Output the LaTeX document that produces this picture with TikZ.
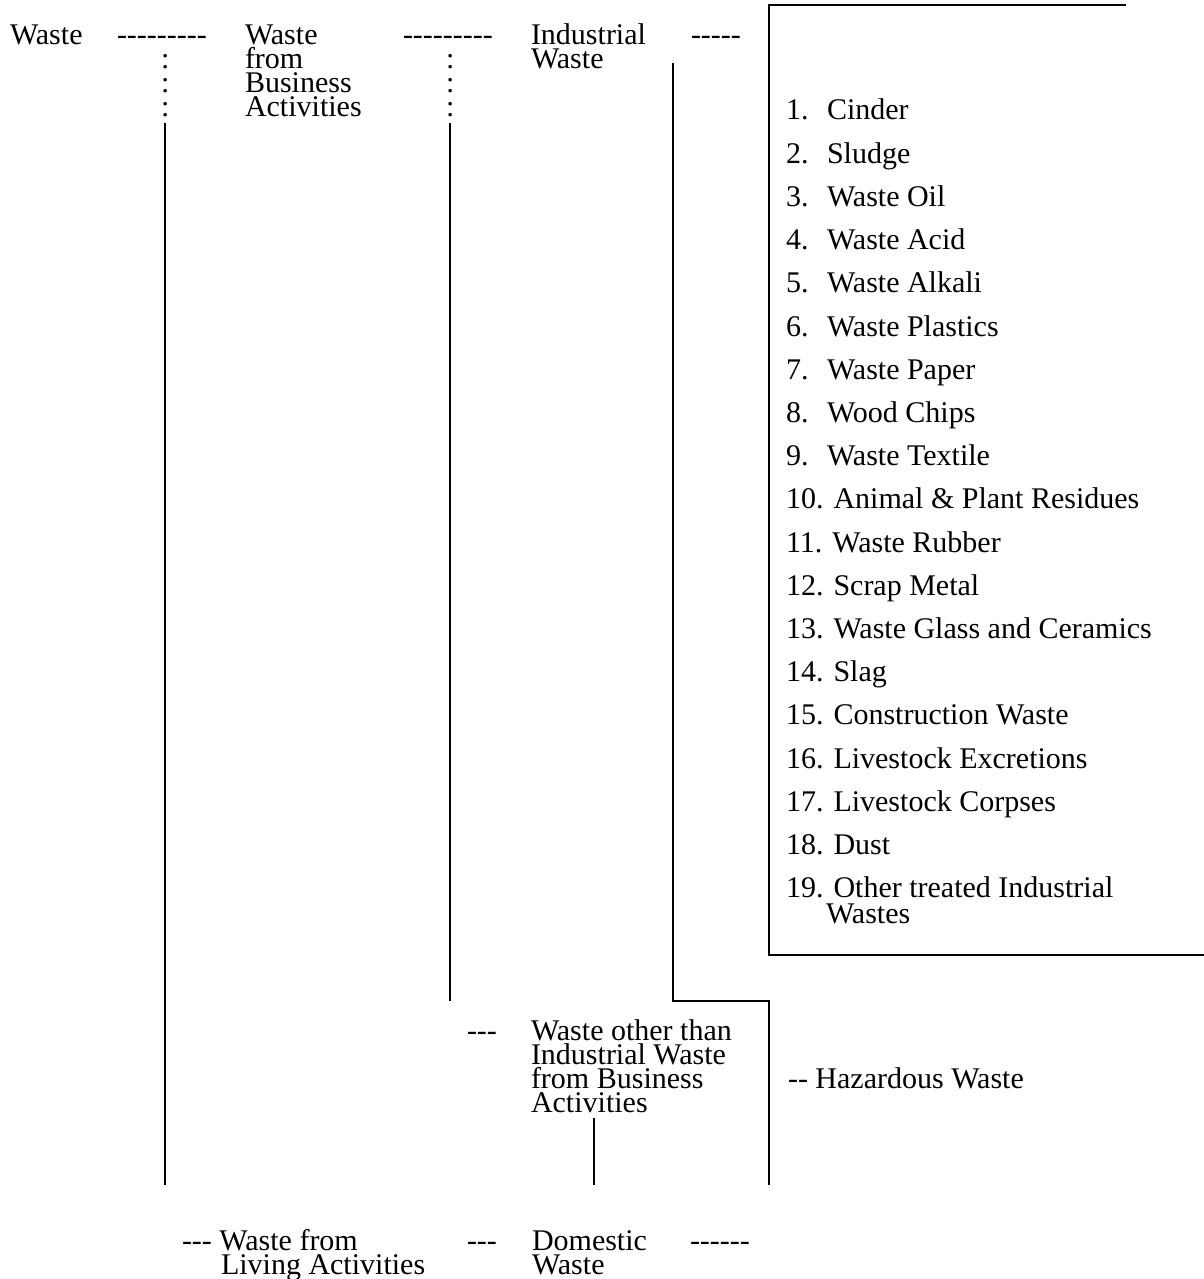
\documentclass[tikz,border=0pt]{standalone}
\usepackage{fontspec}
\setmainfont{Liberation Serif}[Ligatures=TeXOff]
\begin{document}
\begin{tikzpicture}[x=1pt,y=-1pt,
  lbl/.style={anchor=base west, inner sep=0pt, outer sep=0pt, align=left, font=\fontsize{30}{24}\selectfont},
  item/.style={lbl},
  conn/.style={line width=2pt, line cap=butt}]
\useasboundingbox (0,0) rectangle (1204,1279);

% top row (multi-line nodes are anchored at the baseline of their last line)
\node[lbl] (waste) at (10,45) {Waste};
\node[lbl] (dashA) at (117,45) {---------};
\node[lbl] (colA) at (161,117) {:\\:\\:};
\node[lbl] (wba) at (245,117) {Waste\\from\\Business\\Activities};
\node[lbl] (dashB) at (403,45) {---------};
\node[lbl] (colB) at (446,117) {:\\:\\:};
\node[lbl] (ind) at (531,69) {Industrial\\Waste};
\node[lbl] (dashC) at (691,45) {-----};

% list
\foreach \n/\t [count=\k from 0] in {1/Cinder,2/Sludge,3/Waste Oil,4/Waste Acid,5/Waste Alkali,6/Waste Plastics,7/Waste Paper,8/Wood Chips,9/Waste Textile}{
  \node[item] (n\n) at (786,120+\k*43.2) {\n.};
  \node[item] (i\n) at (827,120+\k*43.2) {\t};
}
\foreach \n/\t [count=\k from 9] in {10/Animal \& Plant Residues,11/Waste Rubber,12/Scrap Metal,13/Waste Glass and Ceramics,14/Slag,15/Construction Waste,16/Livestock Excretions,17/Livestock Corpses,18/Dust}{
  \node[item] (i\n) at (786,120+\k*43.2) {\n. \t};
}
\node[item, font=\fontsize{30}{26}\selectfont] (i19) at (786,923.6) {19. Other treated Industrial\\\hspace*{40pt}Wastes};

% middle
\node[lbl] (dashD) at (467,1040) {---};
\node[lbl] (other) at (531,1112) {Waste other than\\Industrial Waste\\from Business\\Activities};
\node[lbl] (haz) at (788,1088) {-- Hazardous Waste};

% bottom row
\node[lbl] (living) at (182,1274) {--- Waste from\\\hspace*{39pt}Living Activities};
\node[lbl] (dashE) at (467,1250) {---};
\node[lbl] (dom) at (532,1274) {Domestic\\Waste};
\node[lbl] (dashF) at (690,1250) {------};

% connector coordinates
\coordinate (a1) at (165,123);
\coordinate (a2) at (165,1185);
\coordinate (b1) at (450,123);
\coordinate (b2) at (450,1001);
\coordinate (c1) at (673,63);
\coordinate (c2) at (673,1001);
\coordinate (c3) at (769,1001);
\coordinate (c4) at (769,1185);
\coordinate (d1) at (594,1118);
\coordinate (d2) at (594,1185);
\coordinate (bx1) at (1126,5);
\coordinate (bx2) at (769,5);
\coordinate (bx3) at (769,955);
\coordinate (bx4) at (1204,955);

\draw[conn] (a1) -- (a2);
\draw[conn] (b1) -- (b2);
\draw[conn, line join=miter] (c1) -- (c2) -- (c3) -- (c4);
\draw[conn] (d1) -- (d2);
\draw[conn, line join=miter] (bx1) -- (bx2) -- (bx3) -- (bx4);
\end{tikzpicture}
\end{document}
